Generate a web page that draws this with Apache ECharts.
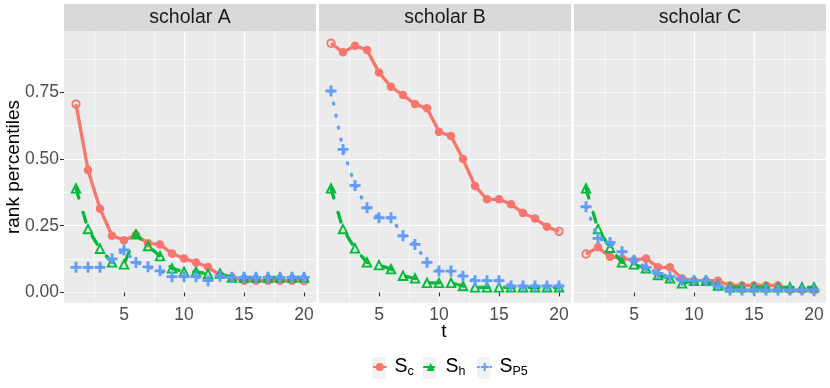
<!DOCTYPE html>
<html>
<head>
<meta charset="utf-8">
<script src="https://cdn.jsdelivr.net/npm/echarts@6/dist/echarts.min.js"></script>
<style>
html,body{margin:0;padding:0;background:#fff;}
#chart{width:830px;height:388px;}
</style>
</head>
<body>
<div id="chart"></div>
<script>
// ---- data ----
var tValues = [1,2,3,4,5,6,7,8,9,10,11,12,13,14,15,16,17,18,19,20];
var panelNames = ['scholar A', 'scholar B', 'scholar C'];
var seriesNames = ['Sc', 'Sh', 'SP5'];
var xTickLabels = [5, 10, 15, 20];
var yTickLabels = [0, 0.25, 0.5, 0.75];

var scholarA_Sc  = [0.706,0.459,0.314,0.2125,0.196,0.216,0.184,0.18,0.146,0.1275,0.1125,0.095,0.065,0.056,0.044,0.044,0.044,0.044,0.044,0.044];
var scholarA_Sh  = [0.39,0.2375,0.164,0.1125,0.105,0.2175,0.174,0.136,0.09,0.0775,0.0775,0.069,0.071,0.056,0.056,0.056,0.056,0.056,0.056,0.056];
var scholarA_SP5 = [0.094,0.094,0.094,0.126,0.159,0.1125,0.096,0.081,0.059,0.059,0.059,0.044,0.061,0.056,0.056,0.056,0.056,0.056,0.056,0.056];

var scholarB_Sc  = [0.934,0.90,0.925,0.909,0.824,0.771,0.74,0.706,0.69,0.6025,0.586,0.50,0.399,0.349,0.349,0.331,0.2975,0.2775,0.246,0.229];
var scholarB_Sh  = [0.39,0.2375,0.165,0.1125,0.1025,0.0875,0.0625,0.0525,0.036,0.036,0.036,0.024,0.019,0.019,0.019,0.019,0.019,0.019,0.019,0.019];
var scholarB_SP5 = [0.755,0.536,0.401,0.3175,0.28,0.28,0.2125,0.18,0.1125,0.08,0.08,0.061,0.044,0.044,0.044,0.024,0.024,0.024,0.024,0.024];

var scholarC_Sc  = [0.144,0.169,0.134,0.1275,0.121,0.1275,0.094,0.094,0.0525,0.044,0.044,0.044,0.026,0.026,0.026,0.026,0.026,0.009,0.009,0.009];
var scholarC_Sh  = [0.39,0.2375,0.1675,0.1125,0.105,0.09,0.065,0.0525,0.034,0.044,0.044,0.026,0.019,0.019,0.019,0.019,0.019,0.019,0.019,0.019];
var scholarC_SP5 = [0.321,0.2025,0.1875,0.1525,0.121,0.094,0.071,0.059,0.046,0.044,0.044,0.024,0.009,0.009,0.009,0.009,0.009,0.009,0.009,0.009];

var panelData = [
  [scholarA_Sc, scholarA_Sh, scholarA_SP5],
  [scholarB_Sc, scholarB_Sh, scholarB_SP5],
  [scholarC_Sc, scholarC_Sh, scholarC_SP5]
];

// ---- style / layout ----
var FONT = 'Liberation Sans, Arial, sans-serif';
var RED = '#F8766D', GREEN = '#00BA38', BLUE = '#619CFF';
var PLUS = 'path://M3.7,0H6.3V3.7H10V6.3H6.3V10H3.7V6.3H0V3.7H3.7Z';
var gridLefts = [64, 319, 574];
var GRID_TOP = 31, GRID_W = 252, GRID_H = 271.7;
var Y_MIN = -0.0385, Y_MAX = 0.98;

var grids = [], xAxes = [], yAxes = [], series = [], graphics = [];

gridLefts.forEach(function (left, i) {
  grids.push({left: left, top: GRID_TOP, width: GRID_W, height: GRID_H, show: true,
    backgroundColor: '#EBEBEB', borderWidth: 0, containLabel: false});
  // major x
  xAxes.push({gridIndex: i, type: 'value', min: 0, max: 21, interval: 5, position: 'bottom',
    axisLine: {show: false},
    axisTick: {show: true, customValues: xTickLabels, length: 4, lineStyle: {color: '#333333', width: 1.1}},
    axisLabel: {show: true, customValues: xTickLabels, margin: 3, fontSize: 17.5, color: '#4D4D4D', fontFamily: FONT},
    splitLine: {show: true, showMinLine: false, showMaxLine: false, lineStyle: {color: '#FFFFFF', width: 1.2}}
  });
  // minor x
  xAxes.push({gridIndex: i, type: 'value', min: 0, max: 21, interval: 2.5, position: 'top',
    axisLine: {show: false}, axisTick: {show: false}, axisLabel: {show: false},
    splitLine: {show: true, showMinLine: false, showMaxLine: false, lineStyle: {color: '#FFFFFF', width: 0.6}}
  });
  // major y
  yAxes.push({gridIndex: i, type: 'value', min: Y_MIN, max: Y_MAX, minInterval: 0.25, maxInterval: 0.25, position: 'left',
    axisLine: {show: false},
    axisTick: {show: i === 0, customValues: yTickLabels, length: 4, lineStyle: {color: '#333333', width: 1.1}},
    axisLabel: {show: i === 0, customValues: yTickLabels, margin: 5, fontSize: 17.5, color: '#4D4D4D', fontFamily: FONT,
      formatter: function (v) { return v.toFixed(2); }},
    splitLine: {show: true, showMinLine: false, showMaxLine: false, lineStyle: {color: '#FFFFFF', width: 1.2}}
  });
  // minor y
  yAxes.push({gridIndex: i, type: 'value', min: Y_MIN, max: Y_MAX, minInterval: 0.125, maxInterval: 0.125, position: 'right',
    axisLine: {show: false}, axisTick: {show: false}, axisLabel: {show: false},
    splitLine: {show: true, showMinLine: false, showMaxLine: false, lineStyle: {color: '#FFFFFF', width: 0.6}}
  });

  var vals = panelData[i];
  var last = tValues.length - 1;
  series.push({
    type: 'line', name: seriesNames[0], xAxisIndex: 2 * i, yAxisIndex: 2 * i,
    data: tValues.map(function (t, j) {
      if (j === 0 || j === last) {
        return {value: [t, vals[0][j]], symbolSize: 7.5,
          itemStyle: {color: 'rgba(0,0,0,0)', borderColor: RED, borderWidth: 1.9}};
      }
      return [t, vals[0][j]];
    }),
    symbol: 'circle', symbolSize: 8.5, itemStyle: {color: RED},
    lineStyle: {color: RED, width: 3.3}, z: 2
  });
  series.push({
    type: 'line', name: seriesNames[1], xAxisIndex: 2 * i, yAxisIndex: 2 * i,
    data: tValues.map(function (t, j) { return [t, vals[1][j]]; }),
    symbol: 'triangle', symbolSize: 8.5,
    itemStyle: {color: 'rgba(0,0,0,0)', borderColor: GREEN, borderWidth: 1.9},
    lineStyle: {color: GREEN, width: 3.3, type: [10, 15], cap: 'round'}, z: 3
  });
  series.push({
    type: 'line', name: seriesNames[2], xAxisIndex: 2 * i, yAxisIndex: 2 * i,
    data: tValues.map(function (t, j) { return [t, vals[2][j]]; }),
    symbol: PLUS, symbolSize: 11, itemStyle: {color: BLUE},
    lineStyle: {color: BLUE, width: 3.3, type: [1, 11.3], cap: 'round'}, z: 4
  });

  // strip
  graphics.push({type: 'rect', z: 0, shape: {x: left, y: 4, width: GRID_W, height: 27}, style: {fill: '#D9D9D9'}});
  graphics.push({type: 'text', z: 1, x: left + GRID_W / 2, y: 18,
    style: {text: panelNames[i], fontSize: 19.5, fontFamily: FONT, fill: '#1A1A1A', textAlign: 'center', textVerticalAlign: 'middle'}});
});

// axis titles
graphics.push({type: 'text', z: 1, x: 14, y: 167, rotation: Math.PI / 2,
  style: {text: 'rank percentiles', fontSize: 19, fontFamily: FONT, fill: '#000', textAlign: 'center', textVerticalAlign: 'middle'}});
graphics.push({type: 'text', z: 1, x: 444, y: 332,
  style: {text: 't', fontSize: 19, fontFamily: FONT, fill: '#000', textAlign: 'center', textVerticalAlign: 'middle'}});

// legend key backgrounds
var legendLefts = [372, 423, 477];
legendLefts.forEach(function (lx) {
  graphics.push({type: 'rect', z: 0, shape: {x: lx, y: 357, width: 13.5, height: 22}, style: {fill: '#F2F2F2'}});
});

var legendColors = [RED, GREEN, BLUE];
var legends = seriesNames.map(function (n, k) {
  return {
    data: [{name: n, itemStyle: {color: legendColors[k], borderWidth: 0}}],
    left: legendLefts[k], top: 357, padding: 0, itemWidth: 13.5, itemHeight: 10,
    selectedMode: false,
    formatter: function (name) { return '{s|S}{sub|' + name.slice(1) + '}'; },
    textStyle: {rich: {
      s: {fontSize: 19.5, fontFamily: FONT, color: '#000', padding: [0, 0, 0, 3]},
      sub: {fontSize: 12.5, fontFamily: FONT, color: '#000', padding: [10, 0, 0, 0]}
    }}
  };
});

var chart = echarts.init(document.getElementById('chart'), null, {renderer: 'canvas'});
chart.setOption({
  animation: false,
  backgroundColor: '#FFFFFF',
  grid: grids,
  xAxis: xAxes,
  yAxis: yAxes,
  legend: legends,
  series: series,
  graphic: {elements: graphics}
});
</script>
</body>
</html>
